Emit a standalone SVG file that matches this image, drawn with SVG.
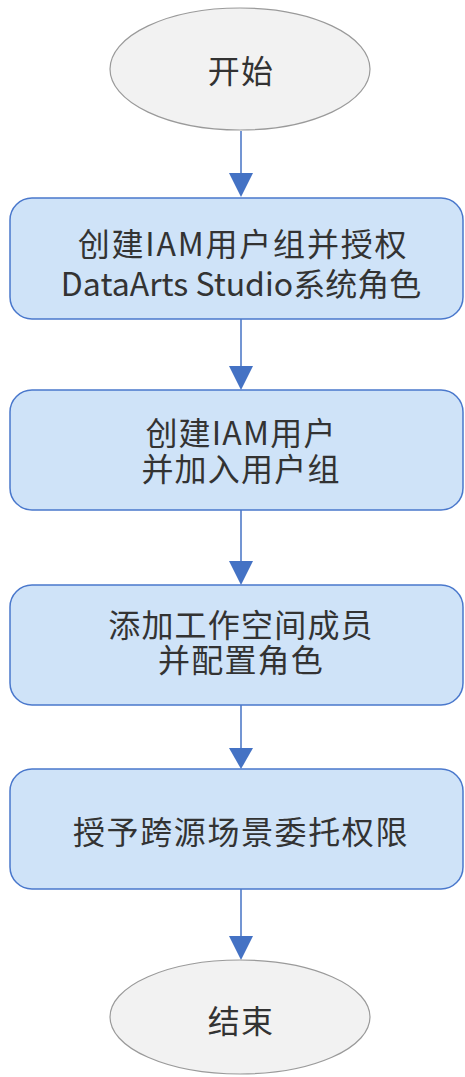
<svg xmlns="http://www.w3.org/2000/svg" width="465" height="1077" viewBox="0 0 465 1077">
<defs>
<style>
.term{fill:#f2f2f2;stroke:#9a9a9a;stroke-width:1.2}
.box{fill:#cfe3f8;stroke:#4a78cc;stroke-width:1.5}
.t{font-family:"Noto Sans CJK SC","Noto Sans",sans-serif;font-size:32px;fill:#333;text-anchor:middle;dominant-baseline:central;letter-spacing:1.2px}
.c{stroke:#4472c4;stroke-width:1.5;fill:none}
.h{fill:#4472c4}
</style>
</defs>
<g id="connectors">
<line class="c" x1="241" y1="131" x2="241" y2="175"/>
<path class="h" d="M229,173 L253,173 L241,197 z"/>
<line class="c" x1="241" y1="319" x2="241" y2="368"/>
<path class="h" d="M229,366 L253,366 L241,390 z"/>
<line class="c" x1="241" y1="510" x2="241" y2="563"/>
<path class="h" d="M229,561 L253,561 L241,585 z"/>
<line class="c" x1="241" y1="705" x2="241" y2="750"/>
<path class="h" d="M229,748 L253,748 L241,769 z"/>
<line class="c" x1="241" y1="889" x2="241" y2="938"/>
<path class="h" d="M229,936 L253,936 L241,960 z"/>
</g>
<g id="start">
<ellipse class="term" cx="240" cy="69" rx="130" ry="61"/>
<text class="t" x="241" y="69">开始</text>
</g>
<g id="step1">
<rect class="box" x="10" y="198" width="453" height="121" rx="22"/>
<text class="t" x="243" y="242" style="letter-spacing:1.8px">创建IAM用户组并授权</text>
<text class="t" x="241" y="282" style="letter-spacing:0">DataArts Studio系统角色</text>
</g>
<g id="step2">
<rect class="box" x="10" y="390" width="453" height="120" rx="22"/>
<text class="t" x="241" y="431">创建IAM用户</text>
<text class="t" x="241" y="467">并加入用户组</text>
</g>
<g id="step3">
<rect class="box" x="10" y="585" width="453" height="120" rx="22"/>
<text class="t" x="241" y="623">添加工作空间成员</text>
<text class="t" x="241" y="658">并配置角色</text>
</g>
<g id="step4">
<rect class="box" x="10" y="769" width="453" height="120" rx="22"/>
<text class="t" x="241" y="830" style="letter-spacing:1.6px">授予跨源场景委托权限</text>
</g>
<g id="end">
<ellipse class="term" cx="240" cy="1017" rx="130" ry="57"/>
<text class="t" x="241" y="1019">结束</text>
</g>
</svg>
